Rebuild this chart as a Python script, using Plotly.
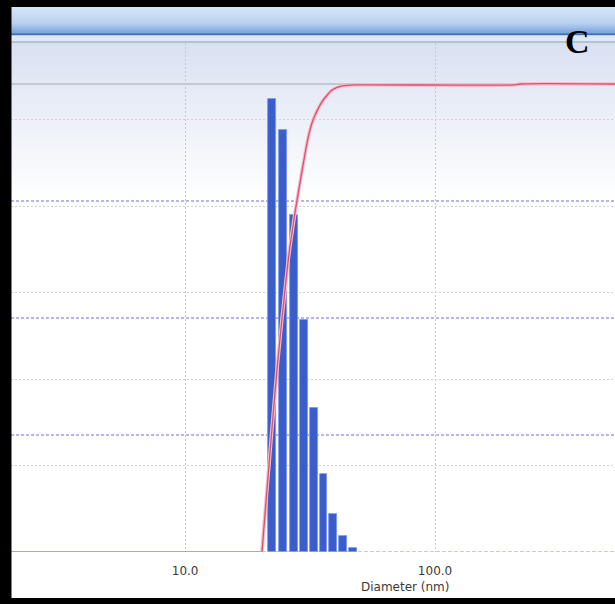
import numpy as np
import plotly.graph_objects as go

# Size distribution (volume %) per diameter class, nm
diameter_nm = [22.3, 24.7, 27.2, 29.8, 32.7, 35.8, 39.1, 42.9, 47.0]
volume_pct = [26.2, 24.4, 19.5, 13.4, 8.3, 4.5, 2.2, 0.9, 0.26]

# Cumulative passing curve (%)
cum_diameter_nm = [20.3, 21.3, 23.3, 25.8, 27.5, 29.4, 31.1, 32.5, 35.3,
                   38.7, 42.5, 47.9, 209.0, 219.0, 525.0]
cum_pct = [0.0, 13.9, 38.9, 62.0, 72.4, 81.6, 88.7, 92.3, 96.2,
           98.7, 99.6, 99.8, 99.8, 100.0, 100.0]

x_ticks = [10.0, 100.0]
x_tick_labels = ["10.0", "100.0"]
x_range_nm = [2.01, 525.0]
cum_grid = [25, 50, 75]

W, H = 615, 604
L, R, T, B = 11, 0, 43, 52
plot_w = W - L - R
plot_h = H - T - B


def px(x):
    return (x - L) / plot_w


def py(y):
    return (H - B - y) / plot_h


shapes = []


def band(y0, y1, color, x0=0, x1=W):
    shapes.append(dict(type="rect", xref="paper", yref="paper",
                       x0=px(x0), x1=px(x1), y0=py(y1), y1=py(y0),
                       fillcolor=color, line=dict(width=0), layer="below"))


def lerp(c0, c1, t):
    t = min(max(t, 0.0), 1.0)
    return "#%02x%02x%02x" % tuple(int(round(a + (b - a) * t)) for a, b in zip(c0, c1))


# header strip gradient
top_c, mid_c, bot_c = (212, 229, 249), (186, 210, 241), (120, 160, 218)
for i in range(7, 34):
    t = (i - 7) / 26
    c = lerp(top_c, mid_c, t / 0.6) if t < 0.6 else lerp(mid_c, bot_c, (t - 0.6) / 0.4)
    band(i, i + 1, c)
band(33.5, 35.5, "#3f6cb6")
band(35.5, 41, "#dfe8f5")
band(41, 43.5, "#b8bfcd")

# plot background gradient fading to white
g0, g1 = (217, 224, 241), (255, 255, 255)
for i in range(43, 200, 3):
    t = (i - 43) / 157
    band(i, i + 3, lerp(g0, g1, t ** 0.9))
band(552, 598, "#ffffff")

# black frame
band(0, 7, "#000000")
band(598, 604, "#000000")
shapes.append(dict(type="rect", xref="paper", yref="paper",
                   x0=px(0), x1=px(11.5), y0=py(604), y1=py(0),
                   fillcolor="#000000", line=dict(width=0), layer="above"))

# 100 % reference line
shapes.append(dict(type="line", xref="paper", yref="y2", x0=0, x1=1, y0=100, y1=100,
                   line=dict(color="#c3c8d6", width=2), layer="below"))

# dashed quartile lines of the cumulative scale
for v in cum_grid:
    shapes.append(dict(type="line", xref="paper", yref="y2", x0=0, x1=1, y0=v, y1=v,
                       line=dict(color="#6a6ae0", width=1.2, dash="3px,2px"),
                       layer="below"))

log_d = np.log10(diameter_nm)
log_cum = np.log10(cum_diameter_nm)

fig = go.Figure()
fig.add_trace(go.Bar(
    x=log_d, y=volume_pct, width=0.031,
    marker=dict(color="#3a5dcc", line=dict(color="#7b98e8", width=0.8)),
    yaxis="y", hoverinfo="skip"))

# zero line: solid left of the distribution, dashed beyond
fig.add_trace(go.Scatter(
    x=[log_cum[0], np.log10(x_range_nm[1])], y=[0, 0], mode="lines",
    line=dict(color="#8f95c8", width=1, dash="4px,2px"), yaxis="y2", hoverinfo="skip"))
fig.add_trace(go.Scatter(
    x=[np.log10(x_range_nm[0]), log_cum[0]], y=[0, 0], mode="lines",
    line=dict(color="#8a8ad2", width=1.5), yaxis="y2", hoverinfo="skip"))

# cumulative curve with soft halo
fig.add_trace(go.Scatter(
    x=log_cum, y=cum_pct, mode="lines",
    line=dict(color="#f5bccb", width=3.5, shape="spline", smoothing=0.6),
    yaxis="y2", hoverinfo="skip"))
fig.add_trace(go.Scatter(
    x=log_cum, y=cum_pct, mode="lines",
    line=dict(color="#de4f6e", width=1.3, shape="spline", smoothing=0.6),
    yaxis="y2", hoverinfo="skip"))

fig.update_layout(
    width=W, height=H,
    margin=dict(l=L, r=R, t=T, b=B, pad=0),
    paper_bgcolor="#ffffff", plot_bgcolor="rgba(0,0,0,0)",
    showlegend=False, bargap=0,
    shapes=shapes,
    xaxis=dict(range=list(np.log10(x_range_nm)), tickvals=list(np.log10(x_ticks)),
               ticktext=x_tick_labels, showgrid=True, gridcolor="#c8c8c8",
               griddash="2px,2px", gridwidth=1, zeroline=False, showline=False,
               ticks="", ticklabelstandoff=10,
               tickfont=dict(family="DejaVu Sans", size=12, color="#3a3a3a"),
               fixedrange=True),
    yaxis=dict(range=[0, plot_h / 17.3], dtick=5, showgrid=True, gridcolor="#d2d2d2",
               griddash="2px,2px", gridwidth=1, showticklabels=False, zeroline=False,
               showline=False, ticks=""),
    yaxis2=dict(range=[0, plot_h / 4.68], overlaying="y", side="right",
                showgrid=False, showticklabels=False, zeroline=False, showline=False,
                ticks=""),
    annotations=[
        dict(text="Diameter (nm)", xref="paper", yref="paper", x=px(405), y=py(587),
             showarrow=False, xanchor="center", yanchor="middle",
             font=dict(family="DejaVu Sans", size=12, color="#3a3a3a")),
        dict(text="<b>C</b>", xref="paper", yref="paper", x=px(577), y=py(41),
             showarrow=False, xanchor="center", yanchor="middle",
             font=dict(family="Liberation Serif", size=34, color="#000000")),
    ],
)

fig.write_html("out.html")
